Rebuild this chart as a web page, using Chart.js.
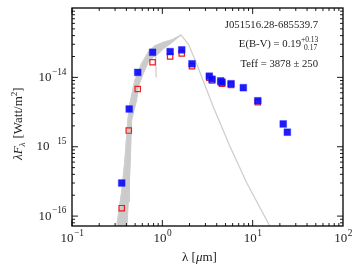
<!DOCTYPE html>
<html>
<head>
<meta charset="utf-8">
<script src="https://cdn.jsdelivr.net/npm/chart.js@4.4.1/dist/chart.umd.min.js"></script>
<style>
  html, body { margin: 0; padding: 0; background: #fff; }
  #wrap { width: 354px; height: 266px; }
</style>
</head>
<body>
<div id="wrap"><canvas id="sed"></canvas></div>
<script>
// photometry (wavelength in micron, lambda*F_lambda in W/m2)
const obsWave = [0.355, 0.43, 0.534, 0.78, 1.22, 1.64, 2.13, 3.31, 3.55, 4.43, 4.58, 5.76, 7.88, 11.4, 21.8, 24.2];
const obsFlux = [3.0e-16, 3.5e-15, 1.18e-14, 2.3e-14, 2.35e-14, 2.49e-14, 1.57e-14, 1.04e-14, 9.4e-15, 8.9e-15, 8.5e-15, 8.1e-15, 7.1e-15, 4.6e-15, 2.13e-15, 1.62e-15];
// dereddened / model photometry (red open squares)
const synWave = [0.355, 0.425, 0.534, 0.78, 1.22, 1.64, 2.13, 3.31, 3.55, 4.43, 4.58, 5.76, 11.4];
const synFlux = [1.3e-16, 1.71e-15, 6.8e-15, 1.65e-14, 2.0e-14, 2.22e-14, 1.45e-14, 9.9e-15, 9.0e-15, 8.5e-15, 8.1e-15, 7.8e-15, 4.4e-15];
// model spectrum, upper edge (then Rayleigh-Jeans tail)
const modelWave = [0.315, 0.358, 0.386, 0.417, 0.439, 0.498, 0.591, 0.70, 0.829, 1.025, 1.27, 1.61, 1.94, 2.40, 3.66, 5.61, 8.59, 15.3, 17.0];
const modelFlux = [7.4e-17, 2.4e-16, 6.5e-16, 2.5e-15, 4.25e-15, 9.1e-15, 1.58e-14, 2.3e-14, 2.86e-14, 3.19e-14, 3.46e-14, 4.07e-14, 3.03e-14, 1.57e-14, 3.77e-15, 1.01e-15, 3.03e-16, 7.4e-17, 5.3e-17];
// model spectrum, lower edge of the band of optical features
const bandWave = [0.403, 0.422, 0.439, 0.458, 0.52, 0.542, 0.615, 0.70, 0.794, 0.902, 1.025, 1.27];
const bandFlux = [6.0e-17, 1.75e-16, 4.7e-16, 2.43e-15, 4.7e-15, 7.3e-15, 1.13e-14, 1.65e-14, 1.95e-14, 2.18e-14, 2.57e-14, 3.16e-14];
// narrow absorption dips in the model
const dip1Wave = [0.84, 0.855];
const dip1Flux = [2.8e-14, 1.0e-14];
const dip2Wave = [0.43, 0.432];
const dip2Flux = [5.0e-16, 1.6e-16];

const xMajor = [0.1, 1, 10, 100];
const xExps = ['\u22121', '0', '1', '2'];
const yMajor = [1e-16, 1e-15, 1e-14];
const yExps = ['\u221216', '_15', '\u221214'];

const pts = (w, f) => w.map((v, i) => ({ x: v, y: f[i] }));
const bandShape = pts(modelWave.slice(0, 12), modelFlux.slice(0, 12))
    .concat(pts(bandWave, bandFlux).reverse());

const SERIF = '"Liberation Serif", "DejaVu Serif", serif';

function drawPow(ctx, x, y, exp, align, size) {
    // "10" with superscript exponent; '_' stands for a dropped minus sign
    const es = size * 0.72;
    ctx.font = size + 'px ' + SERIF;
    const wBase = ctx.measureText('10').width;
    ctx.font = es + 'px ' + SERIF;
    let gap = 0;
    let e = exp;
    if (e[0] === '_') { gap = ctx.measureText('\u2212').width + 2; e = e.slice(1); }
    const wExp = gap + ctx.measureText(e).width;
    let x0 = x;
    if (align === 'center') x0 = x - (wBase + wExp) / 2;
    if (align === 'right') x0 = x - (wBase + wExp);
    ctx.textAlign = 'left';
    ctx.textBaseline = 'middle';
    ctx.font = size + 'px ' + SERIF;
    ctx.fillText('10', x0, y);
    ctx.font = es + 'px ' + SERIF;
    ctx.fillText(e, x0 + wBase + gap + 0.5, y - size * 0.4);
}

const framePlugin = {
    id: 'frame',
    afterDraw(chart) {
        const { ctx, chartArea: a, scales } = chart;
        const sx = scales.x, sy = scales.y;
        ctx.save();
        ctx.strokeStyle = '#000';
        ctx.fillStyle = '#000';
        ctx.lineWidth = 1.3;
        ctx.strokeRect(a.left, a.top, a.right - a.left, a.bottom - a.top);

        ctx.lineWidth = 0.9;
        ctx.beginPath();
        // x ticks (bottom and top, pointing inward)
        for (let d = -1; d <= 1; d++) {
            for (let m = 1; m <= 9; m++) {
                const px = sx.getPixelForValue(m * Math.pow(10, d));
                const len = m === 1 ? 6 : 3;
                ctx.moveTo(px, a.bottom); ctx.lineTo(px, a.bottom - len);
                ctx.moveTo(px, a.top); ctx.lineTo(px, a.top + len);
            }
        }
        // y ticks (left and right)
        for (let d = -17; d <= -14; d++) {
            for (let m = 1; m <= 9; m++) {
                const v = m * Math.pow(10, d);
                if (v < sy.min || v > sy.max) continue;
                const py = sy.getPixelForValue(v);
                const len = m === 1 ? 6 : 3;
                ctx.moveTo(a.left, py); ctx.lineTo(a.left + len, py);
                ctx.moveTo(a.right, py); ctx.lineTo(a.right - len, py);
            }
        }
        ctx.stroke();

        ctx.fillStyle = '#222';
        xMajor.forEach((v, i) => drawPow(ctx, sx.getPixelForValue(v), 239, xExps[i], 'center', 13));
        yMajor.forEach((v, i) => drawPow(ctx, a.left - 6, sy.getPixelForValue(v), yExps[i], 'right', 13));

        // axis titles
        ctx.textBaseline = 'middle';
        ctx.textAlign = 'left';
        ctx.font = '13px ' + SERIF;
        let x = 182;
        ctx.fillText('\u03bb', x, 258);
        x += ctx.measureText('\u03bb ').width;
        ctx.fillText('[', x, 258);
        x += ctx.measureText('[').width;
        ctx.font = 'italic 13px ' + SERIF;
        ctx.fillText('\u03bc', x, 258);
        x += ctx.measureText('\u03bc').width;
        ctx.font = '13px ' + SERIF;
        ctx.fillText('m]', x, 258);

        ctx.save();
        ctx.translate(19, 112);
        ctx.rotate(-Math.PI / 2);
        ctx.font = 'italic 13px ' + SERIF;
        let t = -48;
        ctx.fillText('\u03bbF', t, 0);
        t += ctx.measureText('\u03bbF').width;
        ctx.font = 'italic 9px ' + SERIF;
        ctx.fillText('\u03bb', t, 3.5);
        t += ctx.measureText('\u03bb').width + 4;
        ctx.font = '13px ' + SERIF;
        ctx.fillText('[Watt/m', t, 0);
        t += ctx.measureText('[Watt/m').width;
        ctx.font = '9px ' + SERIF;
        ctx.fillText('2', t, -4.5);
        t += ctx.measureText('2').width;
        ctx.font = '13px ' + SERIF;
        ctx.fillText(']', t, 0);
        ctx.restore();

        // annotations
        ctx.fillStyle = '#222';
        ctx.textAlign = 'right';
        ctx.font = '10.7px ' + SERIF;
        ctx.fillText('J051516.28-685539.7', 318, 25);
        ctx.fillText('Teff = 3878 \u00b1 250', 318, 64);
        ctx.font = '7.5px ' + SERIF;
        ctx.textAlign = 'left';
        ctx.fillText('+0.13', 301, 40);
        ctx.fillText('0.17', 304, 48);
        ctx.textAlign = 'right';
        ctx.font = '10.7px ' + SERIF;
        ctx.fillText('E(B-V) = 0.19', 301, 44);
        ctx.restore();
    }
};

new Chart(document.getElementById('sed'), {
    type: 'scatter',
    data: {
        datasets: [
            {
                label: 'obs',
                data: pts(obsWave, obsFlux),
                pointStyle: 'rect',
                pointRadius: 4.8,
                backgroundColor: 'rgba(10, 10, 250, 0.92)',
                borderColor: 'rgba(40, 40, 255, 0.8)',
                borderWidth: 0.5,
                order: 0
            },
            {
                label: 'syn',
                data: pts(synWave, synFlux),
                pointStyle: 'rect',
                pointRadius: 3.8,
                backgroundColor: 'rgba(255,255,255,0)',
                borderColor: '#ee1c1c',
                borderWidth: 1.2,
                order: 1
            },
            {
                label: 'model',
                data: pts(modelWave, modelFlux),
                showLine: true,
                pointRadius: 0,
                borderColor: '#cfcfcf',
                borderWidth: 1.3,
                order: 3
            },
            {
                label: 'band',
                data: bandShape,
                showLine: true,
                fill: 'shape',
                pointRadius: 0,
                borderColor: '#cbcbcb',
                backgroundColor: '#cbcbcb',
                borderWidth: 1,
                order: 4
            },
            {
                label: 'dip1',
                data: pts(dip1Wave, dip1Flux),
                showLine: true,
                pointRadius: 0,
                borderColor: '#cbcbcb',
                borderWidth: 1.2,
                order: 4
            },
            {
                label: 'dip2',
                data: pts(dip2Wave, dip2Flux),
                showLine: true,
                pointRadius: 0,
                borderColor: '#cbcbcb',
                borderWidth: 1.2,
                order: 4
            }
        ]
    },
    options: {
        responsive: true,
        maintainAspectRatio: false,
        animation: false,
        layout: { padding: { left: 72, right: 11, top: 8, bottom: 40 } },
        plugins: { legend: { display: false }, tooltip: { enabled: false } },
        scales: {
            x: { type: 'logarithmic', min: 0.1, max: 100, display: false },
            y: { type: 'logarithmic', min: 7.2e-17, max: 1e-13, display: false }
        }
    },
    plugins: [framePlugin]
});
</script>
</body>
</html>
